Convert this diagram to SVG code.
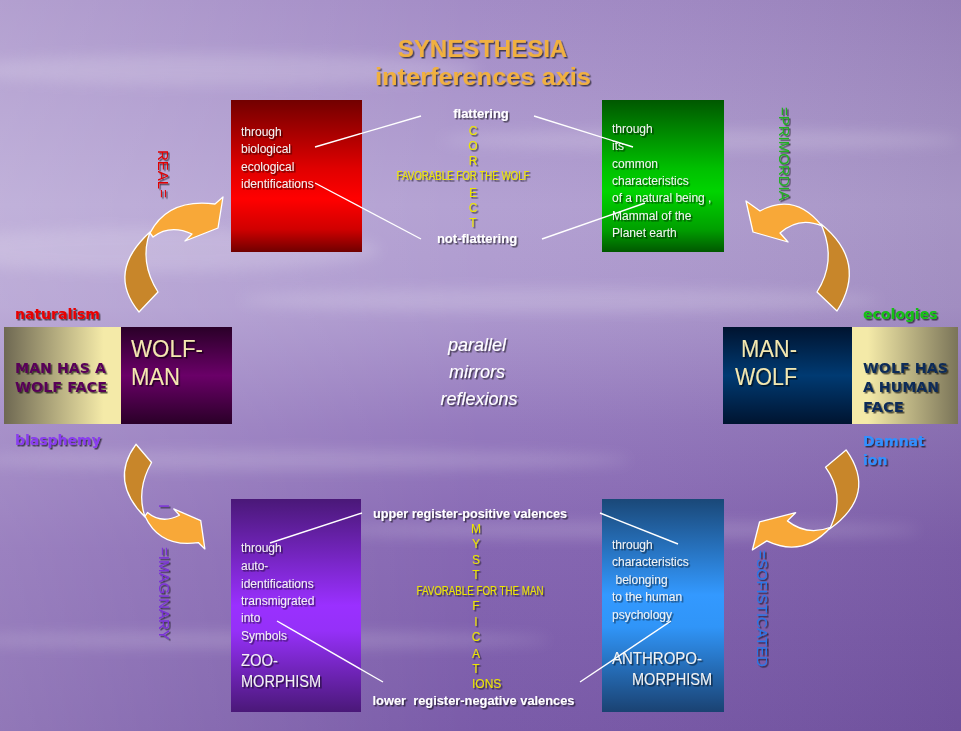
<svg xmlns="http://www.w3.org/2000/svg" width="961" height="731" viewBox="0 0 961 731">
<defs>
<linearGradient id="bg" x1="0" y1="0" x2="0" y2="1">
<stop offset="0" stop-color="#a088c4"/><stop offset="0.28" stop-color="#b19ed1"/><stop offset="0.42" stop-color="#ab96cd"/><stop offset="0.58" stop-color="#9276bc"/><stop offset="0.75" stop-color="#8262b0"/><stop offset="1" stop-color="#7656a6"/>
</linearGradient>
<linearGradient id="bgh" x1="0" y1="0" x2="1" y2="0">
<stop offset="0" stop-color="#fff" stop-opacity="0.2"/><stop offset="0.5" stop-color="#fff" stop-opacity="0.03"/><stop offset="1" stop-color="#000" stop-opacity="0.06"/>
</linearGradient>
<filter id="blur" x="-20%" y="-200%" width="140%" height="500%"><feGaussianBlur stdDeviation="7"/></filter>
<filter id="sh" x="-10%" y="-30%" width="130%" height="170%"><feDropShadow dx="1.5" dy="1.5" stdDeviation="0.5" flood-color="#000" flood-opacity="0.6"/></filter>
<linearGradient id="gRed" x1="0" y1="0" x2="0" y2="1"><stop offset="0" stop-color="#720000"/><stop offset="0.45" stop-color="#e00000"/><stop offset="0.65" stop-color="#ff0000"/><stop offset="0.85" stop-color="#d00000"/><stop offset="1" stop-color="#700000"/></linearGradient>
<linearGradient id="gGreen" x1="0" y1="0" x2="0" y2="1"><stop offset="0" stop-color="#005800"/><stop offset="0.45" stop-color="#00c000"/><stop offset="0.6" stop-color="#00d400"/><stop offset="0.85" stop-color="#00a000"/><stop offset="1" stop-color="#005800"/></linearGradient>
<linearGradient id="gPurple" x1="0" y1="0" x2="0" y2="1"><stop offset="0" stop-color="#4a1878"/><stop offset="0.5" stop-color="#9a30ff"/><stop offset="0.62" stop-color="#9530f8"/><stop offset="1" stop-color="#4a1878"/></linearGradient>
<linearGradient id="gBlue" x1="0" y1="0" x2="0" y2="1"><stop offset="0" stop-color="#1a4878"/><stop offset="0.45" stop-color="#3399ff"/><stop offset="0.6" stop-color="#3095f8"/><stop offset="1" stop-color="#1a4272"/></linearGradient>
<linearGradient id="gWM" x1="0" y1="0" x2="0" y2="1"><stop offset="0" stop-color="#2a0028"/><stop offset="0.5" stop-color="#6a0068"/><stop offset="1" stop-color="#2a0028"/></linearGradient>
<linearGradient id="gMW" x1="0" y1="0" x2="0" y2="1"><stop offset="0" stop-color="#001430"/><stop offset="0.5" stop-color="#003a72"/><stop offset="1" stop-color="#001430"/></linearGradient>
<linearGradient id="gBeigeL" x1="0" y1="0" x2="1" y2="0"><stop offset="0" stop-color="#6e6852"/><stop offset="0.85" stop-color="#f4eaa8"/><stop offset="1" stop-color="#f4eaa8"/></linearGradient>
<linearGradient id="gBeigeR" x1="0" y1="0" x2="1" y2="0"><stop offset="0" stop-color="#f4eaa8"/><stop offset="0.15" stop-color="#f4eaa8"/><stop offset="1" stop-color="#7a7458"/></linearGradient>
<g id="arrowTL">
<path class="ad" d="M139,312 Q106,272 150,232 Q139,262 158,292 Z"/>
<path class="al" d="M150,233 Q168,198 215,204 L223,197 L218,228 L185,241 L192,234 Q170,224 153,237 Z"/>
</g>
<g id="arrowTR">
<path class="al" d="M746,201 L760,211 Q795,192 822,226 Q799,216 780,233 L788,242 L753,232 Z"/>
<path class="ad" d="M821,224 Q868,262 837,311 L817,292 Q836,262 823,229 Z"/>
</g>
</defs>
<style>
.ad{fill:#c8862a;stroke:#fff;stroke-width:1.3;vector-effect:non-scaling-stroke;stroke-linejoin:round}
.al{fill:#f8a838;stroke:#fff;stroke-width:1.3;vector-effect:non-scaling-stroke;stroke-linejoin:round}
.bt{font-family:"Liberation Sans",Arial,sans-serif;font-size:12px;fill:#f2f2f2}
.big{font-family:"Liberation Sans",Arial,sans-serif;font-size:16px;fill:#f2f2f2}
.yl{font-family:"Liberation Sans",Arial,sans-serif;font-size:12px;fill:#ece600;text-anchor:middle}
.wb{font-family:"Liberation Sans",Arial,sans-serif;font-size:13px;font-weight:bold;fill:#fff;text-anchor:middle}
.lab{font-family:"DejaVu Sans",Verdana,sans-serif;font-size:14px;font-weight:bold}
.face{font-family:"DejaVu Sans",Verdana,sans-serif;font-size:14px;font-weight:bold}
.huge{font-family:"Liberation Sans",Arial,sans-serif;font-size:24px;fill:#f4e8b0}
.vt{font-family:"Liberation Sans",Arial,sans-serif;font-size:15px}
.it{font-family:"Liberation Sans",Arial,sans-serif;font-size:18px;font-style:italic;fill:#fff;text-anchor:middle}
.ln{stroke:#fff;stroke-width:1.4;fill:none}
</style>

<g id="background">
<rect x="0" y="0" width="961" height="731" fill="url(#bg)"/>
<rect x="0" y="0" width="961" height="731" fill="url(#bgh)"/>
<g fill="#fff" opacity="0.16" filter="url(#blur)">
<ellipse cx="220" cy="70" rx="260" ry="16"/>
<ellipse cx="150" cy="250" rx="230" ry="22"/>
<ellipse cx="560" cy="300" rx="320" ry="12"/>
<ellipse cx="700" cy="140" rx="260" ry="10"/>
<ellipse cx="300" cy="460" rx="330" ry="10"/>
<ellipse cx="620" cy="530" rx="300" ry="8"/>
<ellipse cx="250" cy="640" rx="300" ry="8"/>
</g>
</g>

<g id="title" font-family="'Liberation Sans',Arial,sans-serif" font-weight="bold" font-size="24" fill="#f0b040" text-anchor="middle" filter="url(#sh)">
<text x="482.5" y="57">SYNESTHESIA</text>
<text x="483" y="85" textLength="216" lengthAdjust="spacingAndGlyphs">interferences axis</text>
</g>

<g id="node-real">
<rect x="231" y="100" width="131" height="152" fill="url(#gRed)"/>
<g class="bt" filter="url(#sh)">
<text x="241" y="135.5">through</text>
<text x="241" y="153">biological</text>
<text x="241" y="170.5">ecological</text>
<text x="241" y="188">identifications</text>
</g>
</g>

<g id="node-primordia">
<rect x="602" y="100" width="122" height="152" fill="url(#gGreen)"/>
<g class="bt" filter="url(#sh)">
<text x="612" y="132.5">through</text>
<text x="612" y="150">its</text>
<text x="612" y="167.5">common</text>
<text x="612" y="185">characteristics</text>
<text x="612" y="202">of a natural being ,</text>
<text x="612" y="219.5">Mammal of the</text>
<text x="612" y="237">Planet earth</text>
</g>
</g>

<g id="axis-top" filter="url(#sh)">
<text class="wb" x="481" y="118">flattering</text>
<text class="yl" x="473" y="135">C</text>
<text class="yl" x="473" y="150">O</text>
<text class="yl" x="473" y="165">R</text>
<text class="yl" x="463" y="180" textLength="133" lengthAdjust="spacingAndGlyphs">FAVORABLE FOR THE WOLF</text>
<text class="yl" x="473" y="197">E</text>
<text class="yl" x="473" y="212">C</text>
<text class="yl" x="473" y="227">T</text>
<text class="wb" x="477" y="243">not-flattering</text>
</g>

<g id="node-wolf-man">
<rect x="4" y="327" width="117" height="97" fill="url(#gBeigeL)"/>
<rect x="121" y="327" width="111" height="97" fill="url(#gWM)"/>
<g class="face" fill="#580058" filter="url(#sh)">
<text x="15" y="372.5" textLength="91" lengthAdjust="spacingAndGlyphs">MAN HAS A</text>
<text x="15" y="391.5" textLength="92" lengthAdjust="spacingAndGlyphs">WOLF FACE</text>
</g>
<g class="huge" filter="url(#sh)">
<text x="131" y="356.5" textLength="72" lengthAdjust="spacingAndGlyphs">WOLF-</text>
<text x="131" y="385" textLength="49" lengthAdjust="spacingAndGlyphs">MAN</text>
</g>
<g class="lab" filter="url(#sh)">
<text x="15" y="319" fill="#e80000">naturalism</text>
<text x="15" y="445" fill="#8a3cf0">blasphemy</text>
</g>
</g>

<g id="node-man-wolf">
<rect x="723" y="327" width="130" height="97" fill="url(#gMW)"/>
<rect x="852" y="327" width="106" height="97" fill="url(#gBeigeR)"/>
<g class="huge" filter="url(#sh)">
<text x="741" y="356.5" textLength="56" lengthAdjust="spacingAndGlyphs">MAN-</text>
<text x="735" y="385" textLength="62" lengthAdjust="spacingAndGlyphs">WOLF</text>
</g>
<g class="face" fill="#0a2c58" filter="url(#sh)">
<text x="863" y="373" textLength="85" lengthAdjust="spacingAndGlyphs">WOLF HAS</text>
<text x="863" y="391.5" textLength="76" lengthAdjust="spacingAndGlyphs">A HUMAN</text>
<text x="863" y="411.5" textLength="41" lengthAdjust="spacingAndGlyphs">FACE</text>
</g>
<g class="lab" filter="url(#sh)">
<text x="863" y="319" fill="#14c014">ecologies</text>
<text x="863" y="446" fill="#3090ff">Damnat</text>
<text x="863" y="465" fill="#3090ff">ion</text>
</g>
</g>

<g id="center-text" class="it" filter="url(#sh)">
<text x="477" y="351">parallel</text>
<text x="477" y="378">mirrors</text>
<text x="479" y="405">reflexions</text>
</g>

<g id="node-imaginary">
<rect x="231" y="499" width="130" height="213" fill="url(#gPurple)"/>
<g class="bt" filter="url(#sh)">
<text x="241" y="552">through</text>
<text x="241" y="570">auto-</text>
<text x="241" y="587.5">identifications</text>
<text x="241" y="604.5">transmigrated</text>
<text x="241" y="622">into</text>
<text x="241" y="639.5">Symbols</text>
</g>
<g class="big" filter="url(#sh)">
<text x="241" y="665.5" textLength="37" lengthAdjust="spacingAndGlyphs">ZOO-</text>
<text x="241" y="686.5" textLength="80" lengthAdjust="spacingAndGlyphs">MORPHISM</text>
</g>
</g>

<g id="node-sofisticated">
<rect x="602" y="499" width="122" height="213" fill="url(#gBlue)"/>
<g class="bt" filter="url(#sh)">
<text x="612" y="549">through</text>
<text x="612" y="566">characteristics</text>
<text x="615.5" y="584">belonging</text>
<text x="612" y="601">to the human</text>
<text x="612" y="618.5">psychology</text>
</g>
<g class="big" filter="url(#sh)">
<text x="612" y="663.5" textLength="90" lengthAdjust="spacingAndGlyphs">ANTHROPO-</text>
<text x="632" y="685" textLength="80" lengthAdjust="spacingAndGlyphs">MORPHISM</text>
</g>
</g>

<g id="axis-bottom" filter="url(#sh)">
<text class="wb" x="470" y="518" textLength="194" lengthAdjust="spacingAndGlyphs">upper register-positive valences</text>
<text class="yl" x="476" y="532.5">M</text>
<text class="yl" x="476" y="547.5">Y</text>
<text class="yl" x="476" y="564">S</text>
<text class="yl" x="476" y="579">T</text>
<text class="yl" x="480" y="595" textLength="127" lengthAdjust="spacingAndGlyphs">FAVORABLE FOR THE MAN</text>
<text class="yl" x="476" y="610">F</text>
<text class="yl" x="476" y="626">I</text>
<text class="yl" x="476" y="641">C</text>
<text class="yl" x="476" y="657.5">A</text>
<text class="yl" x="476" y="672.5">T</text>
<text class="yl" x="472" y="687.5" style="text-anchor:start">IONS</text>
<text class="wb" x="473.5" y="705" textLength="202" lengthAdjust="spacingAndGlyphs" xml:space="preserve">lower  register-negative valences</text>
</g>

<g id="side-labels" class="vt" filter="url(#sh)">
<text transform="translate(158,150) rotate(90)" fill="#e00000">REAL=</text>
<text transform="translate(779,107) rotate(90)" fill="#20b020">=PRIMORDIA</text>
<text transform="translate(159,504) rotate(90)" fill="#7a30d8">I</text>
<text transform="translate(159,547) rotate(90)" fill="#7a30d8">=IMAGINARY</text>
<text transform="translate(757,550) rotate(90)" fill="#2a78e8">=SOFISTICATED</text>
</g>

<g id="connectors">
<line class="ln" x1="315" y1="147" x2="421" y2="116"/>
<line class="ln" x1="315" y1="183" x2="421" y2="239"/>
<line class="ln" x1="534" y1="116" x2="633" y2="147"/>
<line class="ln" x1="542" y1="239" x2="645" y2="203"/>
<line class="ln" x1="270" y1="543" x2="362" y2="513"/>
<line class="ln" x1="277" y1="621" x2="383" y2="682"/>
<line class="ln" x1="600" y1="513" x2="678" y2="544"/>
<line class="ln" x1="580" y1="682" x2="671" y2="621"/>
<g id="curved-arrows">
<use href="#arrowTL"/>
<use href="#arrowTR"/>
<use href="#arrowTL" transform="matrix(0.82,0,0,-0.91,22,728.2)"/>
<use href="#arrowTR" transform="matrix(1.03,0,0,-0.91,-16,732.9)"/>
</g>
</g>
</svg>
